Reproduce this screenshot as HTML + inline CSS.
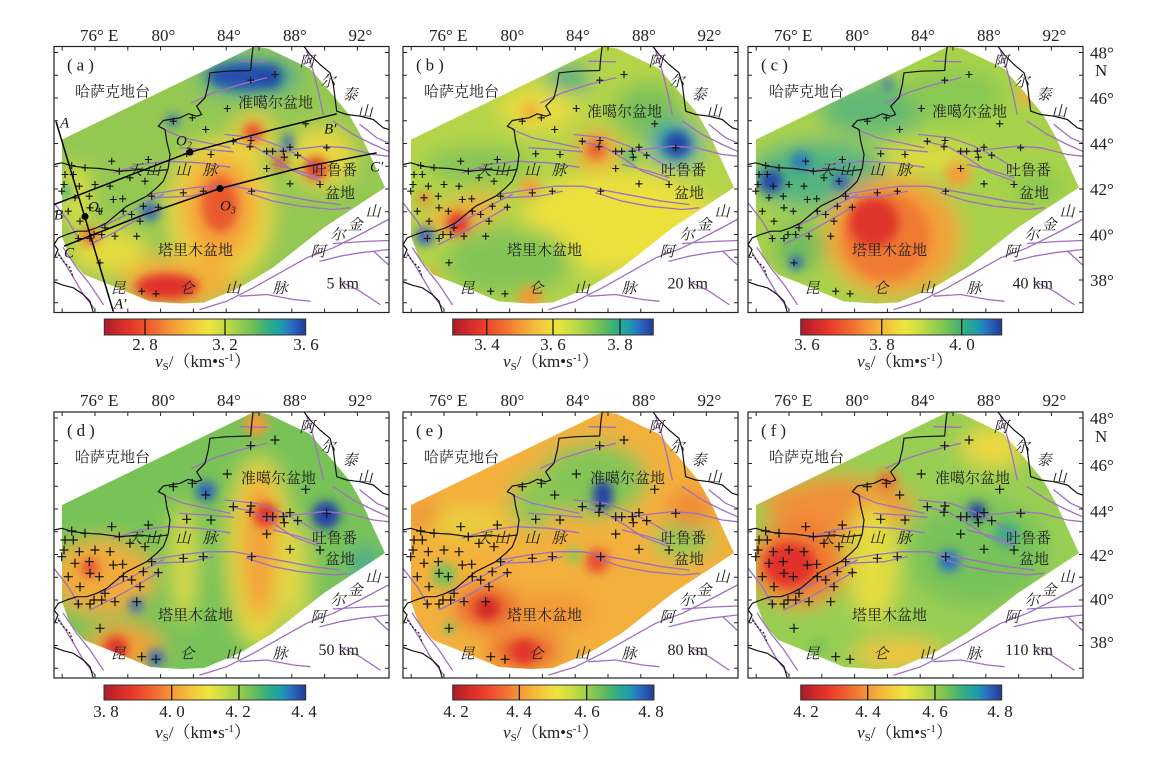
<!DOCTYPE html>
<html><head><meta charset="utf-8"><style>
html,body{margin:0;padding:0;background:#fff;}
svg{display:block;}
.cn{font-family:"Liberation Serif","Noto Serif CJK SC",serif;font-size:15px;fill:#222;}
.cnm{font-family:"Liberation Serif","Noto Serif CJK SC",serif;font-size:15px;fill:#222;text-anchor:middle;font-style:italic;}
.lab{font-family:"Liberation Serif","Noto Serif CJK SC",serif;font-size:17px;fill:#222;}
.mid{text-anchor:middle;}
.dep{font-family:"Liberation Serif",serif;font-size:16px;fill:#222;text-anchor:end;}
.it{font-family:"Liberation Serif",serif;font-size:15px;font-style:italic;fill:#111;}
</style></head><body>
<svg width="1158" height="758" viewBox="0 0 1158 758" xmlns="http://www.w3.org/2000/svg">
<defs>
<clipPath id="dc"><polygon points="8,93 200,0 214,2 256,22 280,50 295,68 308,91 331,141 270,181 219,221 186,241 150,256 128,257 96,255 60,240 30,228 16,212 8,190"/></clipPath>
<clipPath id="fc"><rect x="0" y="0" width="335" height="266"/></clipPath>
<filter id="b10" filterUnits="userSpaceOnUse" x="-80" y="-80" width="500" height="430"><feGaussianBlur stdDeviation="10"/></filter>
<filter id="b5" filterUnits="userSpaceOnUse" x="-80" y="-80" width="500" height="430"><feGaussianBlur stdDeviation="5"/></filter>
<linearGradient id="cmap" x1="0" y1="0" x2="1" y2="0">
<stop offset="0" stop-color="#a81c2c"/><stop offset="0.08" stop-color="#d42a2a"/><stop offset="0.15" stop-color="#ea3c2a"/><stop offset="0.25" stop-color="#f06a30"/><stop offset="0.35" stop-color="#f5a038"/><stop offset="0.45" stop-color="#f2cc3c"/><stop offset="0.52" stop-color="#ece43e"/><stop offset="0.60" stop-color="#c4dc44"/><stop offset="0.68" stop-color="#92cc4e"/><stop offset="0.75" stop-color="#62bc5a"/><stop offset="0.82" stop-color="#2eac88"/><stop offset="0.88" stop-color="#1e9cb0"/><stop offset="0.93" stop-color="#2a6cc4"/><stop offset="1" stop-color="#233a92"/>
</linearGradient>
<g id="lines">
<g fill="none" stroke="#a070c0" stroke-width="1.3" stroke-linejoin="round" stroke-linecap="round">
<polyline points="186,14.7 212.7,15.3"/>
<polyline points="137.7,56.3 159.3,46.3 186,38 212.7,31.3"/>
<polyline points="252.7,4.7 259.3,24.7 264.3,44.7 269.3,68"/>
<polyline points="279.3,74.7 299.3,88 319.3,98 334.3,104.7"/>
<polyline points="306,78 322.7,91.3 334.3,96.3"/>
<polyline points="109.3,83 129.3,91.3 152.7,96.3 176,101.3"/>
<polyline points="126,101.3 152.7,103 179.3,105.3"/>
<polyline points="171,88 202.7,91.3 226,99.7 249.3,111.3 269.3,123"/>
<polyline points="176,94.7 199.3,99.7 219.3,111.3 239.3,124.7 266,134.7"/>
<polyline points="212.7,106.3 239.3,103 269.3,99.7 292.7,101.3 319.3,108 334.3,109.7"/>
<polyline points="219.3,118 246,124.7 266,131.3"/>
<polyline points="59.3,126.3 86,118 112.7,114.7 146,116.3 176,120.7"/>
<polyline points="96,148 126,143 152.7,139.7 179.3,139.7 206,144.7 232.7,149.7 259.3,154.7 286,158"/>
<polyline points="192.7,146.3 219.3,154.7 246,159.7 279.3,163 296,161.3"/>
<polyline points="99.3,151.3 136,149.7 159.3,144.7"/>
<polyline points="36,198 62.7,184.7 86,171.3 106,159.7"/>
<polyline points="46,181.3 72.7,168 92.7,156.3 109.3,148"/>
<polyline points="9.3,201.3 22.7,221.3 36,238 49.3,258"/>
<polyline points="0,156.3 14.3,174.7 26,194.7"/>
<polyline points="4.3,206.3 17.7,228 29.3,248 41,263"/>
<polyline points="146,263 172.7,254.7 199.3,241.3 226,226.3 252.7,211.3 279.3,201.3 306,188 334.3,173"/>
<polyline points="186,249.7 212.7,248 239.3,253 256,254.7"/>
<polyline points="266,214.7 286,209.7 306,206.3 334.3,203"/>
<polyline points="279.3,197 310,195 334.3,194"/>
<polyline points="286,234.7 306,244.7 326,258"/>
<polyline points="320,205 334,218"/>
</g>
<g fill="none" stroke="#111" stroke-width="1.2" stroke-linejoin="round">
<polyline points="199.3,-1 197.7,11.3 196.7,24 172.7,24.7 156,26.3 154.3,38 151,51.3 142.7,59.7 147.7,68 142.7,69.7 134.3,67.3 126,71.3 109.3,74 104.3,79.7 111,83 112.7,94.7 116,108 114.3,121.3 112,128 109.3,134.7 102.7,141.3 92.7,149.7 82.7,154.7 72.7,159.7 62.7,168 52.7,176.3 42.7,181.3 32.7,184.7 22.7,184.7 12.7,188 4.3,191.3 0,198"/>
<polyline points="114.3,123 99.3,124.7 86,123 66,124.7 46,122 32.7,121.3 19.3,119.7 7.7,116.3 0,118"/>
<polyline points="249.3,-1 256,8 266,18 276,26.3 279.3,38 281,51.3 282.7,64.7 292.7,68 306,69.7 319.3,73 329.3,81.3 335,83"/>
<polyline points="0,235.3 9.3,238.7 19.3,241.3 29.3,248 36,254.7 39.3,266"/>
<polyline points="0,198 4,203 1,210"/>
<polyline points="4.3,208 9.3,214.7 16,221.3 19.3,231.3" stroke-dasharray="2,2"/>
</g>
</g>
<g id="frame">
<rect x="0" y="0" width="335" height="266" fill="none" stroke="#222" stroke-width="1.2"/>
<path fill="none" stroke="#222" stroke-width="1" d="M8.2,0v4M41,0v4M73.8,0v4M106.6,0v4M139.4,0v4M172.2,0v4M205,0v4M237.8,0v4M270.6,0v4M303.4,0v4M8.2,266v-4M41,266v-4M73.8,266v-4M106.6,266v-4M139.4,266v-4M172.2,266v-4M205,266v-4M237.8,266v-4M270.6,266v-4M303.4,266v-4M0,6h4M0,28.75h4M0,51.5h4M0,74.25h4M0,97h4M0,119.75h4M0,142.5h4M0,165.25h4M0,188h4M0,210.75h4M0,233.5h4M0,256.25h4M335,6h-4M335,28.75h-4M335,51.5h-4M335,74.25h-4M335,97h-4M335,119.75h-4M335,142.5h-4M335,165.25h-4M335,188h-4M335,210.75h-4M335,233.5h-4M335,256.25h-4"/>
</g>
<g id="geo">
<g clip-path="url(#fc)">
<use href="#lines"/>
<path fill="none" stroke="#111" stroke-width="1.1" d="M217.5,28h7m-3.5-3.5v7M193.2,33.7h7m-3.5-3.5v7M169.8,62h7m-3.5-3.5v7M115.8,74.7h7m-3.5-3.5v7M134.8,71.3h7m-3.5-3.5v7M148.2,83h7m-3.5-3.5v7M175.8,94.7h7m-3.5-3.5v7M193.5,94h7m-3.5-3.5v7M192.5,100.3h7m-3.5-3.5v7M209.2,104.7h7m-3.5-3.5v7M215.2,104.7h7m-3.5-3.5v7M225.8,104.7h7m-3.5-3.5v7M226.8,110.7h7m-3.5-3.5v7M240.2,108.7h7m-3.5-3.5v7M232.5,100.7h7m-3.5-3.5v7M248.2,77.3h7m-3.5-3.5v7M269.2,101.3h7m-3.5-3.5v7M209.2,122h7m-3.5-3.5v7M262.5,138h7m-3.5-3.5v7M232.5,137.3h7m-3.5-3.5v7M194.2,144.7h7m-3.5-3.5v7M145.8,144.7h7m-3.5-3.5v7M125.8,146.3h7m-3.5-3.5v7M153.5,108h7m-3.5-3.5v7M129.2,107.3h7m-3.5-3.5v7M90.8,113h7m-3.5-3.5v7M54.2,114.7h7m-3.5-3.5v7M72.5,131.3h7m-3.5-3.5v7M87.5,134.7h7m-3.5-3.5v7M61.8,124.7h7m-3.5-3.5v7M52.5,139.7h7m-3.5-3.5v7M37.5,138h7m-3.5-3.5v7M27.5,121.3h7m-3.5-3.5v7M14.2,119h7m-3.5-3.5v7M7.5,128h7m-3.5-3.5v7M15.8,128h7m-3.5-3.5v7M21.8,139.7h7m-3.5-3.5v7M6.5,138h7m-3.5-3.5v7M4.2,144.7h7m-3.5-3.5v7M17.5,151.3h7m-3.5-3.5v7M31.8,149.7h7m-3.5-3.5v7M55.8,153h7m-3.5-3.5v7M65.2,152.3h7m-3.5-3.5v7M41.8,164.7h7m-3.5-3.5v7M32.5,161.3h7m-3.5-3.5v7M22.5,174.7h7m-3.5-3.5v7M10.8,164.7h7m-3.5-3.5v7M47.5,181.3h7m-3.5-3.5v7M44.2,188h7m-3.5-3.5v7M36.5,188h7m-3.5-3.5v7M57.5,189.7h7m-3.5-3.5v7M32.5,192h7m-3.5-3.5v7M20.8,192h7m-3.5-3.5v7M79.2,189.7h7m-3.5-3.5v7M65.8,164.7h7m-3.5-3.5v7M74.2,168h7m-3.5-3.5v7M82.5,174.7h7m-3.5-3.5v7M94.2,149.7h7m-3.5-3.5v7M85.8,159.7h7m-3.5-3.5v7M100.8,160.7h7m-3.5-3.5v7M42.5,216.3h7m-3.5-3.5v7M84.2,244.7h7m-3.5-3.5v7M98.5,247.3h7m-3.5-3.5v7"/>
</g>
<use href="#frame"/>
</g>
<g id="geo2">
<g clip-path="url(#fc)">
<use href="#lines"/>
<path fill="none" stroke="#111" stroke-width="1.2" d="M216.5,28h9m-4.5-4.5v9M192.2,33.7h9m-4.5-4.5v9M168.8,62h9m-4.5-4.5v9M114.8,74.7h9m-4.5-4.5v9M133.8,71.3h9m-4.5-4.5v9M147.2,83h9m-4.5-4.5v9M174.8,94.7h9m-4.5-4.5v9M192.5,94h9m-4.5-4.5v9M191.5,100.3h9m-4.5-4.5v9M208.2,104.7h9m-4.5-4.5v9M214.2,104.7h9m-4.5-4.5v9M224.8,104.7h9m-4.5-4.5v9M225.8,110.7h9m-4.5-4.5v9M239.2,108.7h9m-4.5-4.5v9M231.5,100.7h9m-4.5-4.5v9M247.2,77.3h9m-4.5-4.5v9M268.2,101.3h9m-4.5-4.5v9M208.2,122h9m-4.5-4.5v9M261.5,138h9m-4.5-4.5v9M231.5,137.3h9m-4.5-4.5v9M193.2,144.7h9m-4.5-4.5v9M144.8,144.7h9m-4.5-4.5v9M124.8,146.3h9m-4.5-4.5v9M152.5,108h9m-4.5-4.5v9M128.2,107.3h9m-4.5-4.5v9M89.8,113h9m-4.5-4.5v9M53.2,114.7h9m-4.5-4.5v9M71.5,131.3h9m-4.5-4.5v9M86.5,134.7h9m-4.5-4.5v9M60.8,124.7h9m-4.5-4.5v9M51.5,139.7h9m-4.5-4.5v9M36.5,138h9m-4.5-4.5v9M26.5,121.3h9m-4.5-4.5v9M13.2,119h9m-4.5-4.5v9M6.5,128h9m-4.5-4.5v9M14.8,128h9m-4.5-4.5v9M20.8,139.7h9m-4.5-4.5v9M5.5,138h9m-4.5-4.5v9M3.2,144.7h9m-4.5-4.5v9M16.5,151.3h9m-4.5-4.5v9M30.8,149.7h9m-4.5-4.5v9M54.8,153h9m-4.5-4.5v9M64.2,152.3h9m-4.5-4.5v9M40.8,164.7h9m-4.5-4.5v9M31.5,161.3h9m-4.5-4.5v9M21.5,174.7h9m-4.5-4.5v9M9.8,164.7h9m-4.5-4.5v9M46.5,181.3h9m-4.5-4.5v9M43.2,188h9m-4.5-4.5v9M35.5,188h9m-4.5-4.5v9M56.5,189.7h9m-4.5-4.5v9M31.5,192h9m-4.5-4.5v9M19.8,192h9m-4.5-4.5v9M78.2,189.7h9m-4.5-4.5v9M64.8,164.7h9m-4.5-4.5v9M73.2,168h9m-4.5-4.5v9M81.5,174.7h9m-4.5-4.5v9M93.2,149.7h9m-4.5-4.5v9M84.8,159.7h9m-4.5-4.5v9M99.8,160.7h9m-4.5-4.5v9M41.5,216.3h9m-4.5-4.5v9M83.2,244.7h9m-4.5-4.5v9M97.5,247.3h9m-4.5-4.5v9"/>
</g>
<use href="#frame"/>
</g>
</defs>
<rect width="1158" height="758" fill="#fff"/>

<!-- ===== Panel a ===== -->
<g transform="translate(54,46.5)">
<g clip-path="url(#dc)">
<g filter="url(#b10)">
<rect x="-30" y="-30" width="400" height="330" fill="#94c852"/>
<ellipse cx="22" cy="150" rx="14" ry="32" fill="#dce040"/>
<ellipse cx="55" cy="205" rx="38" ry="22" fill="#e4dc40"/>
<ellipse cx="166" cy="165" rx="52" ry="72" fill="#ecd840"/>
<ellipse cx="166" cy="162" rx="36" ry="52" fill="#f5a03a"/>
<ellipse cx="125" cy="235" rx="58" ry="26" fill="#f0b03a"/>
<ellipse cx="268" cy="110" rx="32" ry="30" fill="#e8d840"/>
<ellipse cx="200" cy="88" rx="20" ry="22" fill="#ecd040"/>
<ellipse cx="195" cy="30" rx="50" ry="20" fill="#30a090"/>
</g>
<g filter="url(#b5)">
<ellipse cx="166" cy="158" rx="18" ry="28" fill="#e85a2e"/>
<ellipse cx="113" cy="240" rx="32" ry="13" fill="#e0302a"/>
<ellipse cx="190" cy="30" rx="36" ry="13" fill="#2850b0"/>
<circle cx="216" cy="30" r="12" fill="#2248a8"/>
<circle cx="119" cy="74" r="6" fill="#2a60c0"/>
<circle cx="199" cy="86" r="10" fill="#e85030"/>
<ellipse cx="234" cy="96" rx="5" ry="9" fill="#2a60c0"/>
<circle cx="226" cy="116" r="7" fill="#e84a2c"/>
<circle cx="262" cy="122" r="12" fill="#e0402a"/>
<circle cx="96" cy="165" r="9" fill="#2a60c0"/>
<circle cx="12" cy="145" r="6" fill="#30a890"/>
<circle cx="36" cy="190" r="9" fill="#f07030"/>
</g>
</g>
<use href="#geo"/>
<g clip-path="url(#fc)" fill="none" stroke="#000" stroke-width="1.5">
<line x1="2" y1="75" x2="59.3" y2="265"/>
<polyline points="0,158 69.3,131.3 136,105.7 219.3,83 282.7,67.3"/>
<polyline points="10,199.7 86,169.7 166,142 246,121.3 322.7,106.3"/>
</g>
<circle cx="31" cy="170" r="3.5" fill="#000"/>
<circle cx="136" cy="105.7" r="3.5" fill="#000"/>
<circle cx="166" cy="142" r="3.5" fill="#000"/>
<text x="6" y="81" class="it">A</text>
<text x="0" y="173" class="it">B</text>
<text x="10" y="211" class="it">C</text>
<text x="60" y="262" class="it">A′</text>
<text x="270" y="87" class="it">B′</text>
<text x="316" y="125" class="it">C′</text>
<text x="122" y="99" class="it">O<tspan font-size="10" dy="3">2</tspan></text>
<text x="34" y="165" class="it">O<tspan font-size="10" dy="3">1</tspan></text>
<text x="166" y="164" class="it">O<tspan font-size="10" dy="3">3</tspan></text>
<text x="13" y="24" class="lab" letter-spacing="4">(a)</text>
<text x="21" y="50" class="cn">哈萨克地台</text>
<text x="184" y="61" class="cn">准噶尔盆地</text>
<text x="81" y="128.5" class="cnm">天</text><text x="99" y="128.5" class="cnm">山</text><text x="129" y="128.5" class="cnm">山</text><text x="156" y="128.5" class="cnm">脉</text>
<text x="258" y="128.5" class="cn">吐鲁番</text>
<text x="271" y="151.5" class="cn">盆地</text>
<text x="104" y="208.5" class="cn">塔里木盆地</text>
<text x="64" y="246.5" class="cnm">昆</text><text x="133" y="246.5" class="cnm">仑</text><text x="179" y="246.5" class="cnm">山</text><text x="226" y="246.5" class="cnm">脉</text>
<text x="253" y="20" class="cnm">阿</text><text x="274" y="40" class="cnm">尔</text><text x="296" y="53" class="cnm">泰</text><text x="311" y="70" class="cnm">山</text>
<text x="319" y="170" class="cnm">山</text><text x="301" y="183" class="cnm">金</text><text x="284" y="193" class="cnm">尔</text><text x="264" y="210" class="cnm">阿</text>
<text x="305" y="242" class="dep">5 km</text>
</g>

<!-- ===== Panel b ===== -->
<g transform="translate(403,46.5)">
<g clip-path="url(#dc)">
<g filter="url(#b10)">
<rect x="-30" y="-30" width="400" height="330" fill="#b4d44a"/>
<ellipse cx="215" cy="175" rx="95" ry="50" fill="#ece03e"/>
<ellipse cx="135" cy="62" rx="40" ry="22" fill="#e6dc40"/>
<ellipse cx="75" cy="118" rx="55" ry="18" fill="#84c456"/>
<ellipse cx="105" cy="215" rx="65" ry="35" fill="#84c456"/>
<ellipse cx="245" cy="65" rx="35" ry="28" fill="#78c05a"/>
<ellipse cx="272" cy="98" rx="26" ry="22" fill="#2c9cae"/>
<ellipse cx="165" cy="32" rx="22" ry="13" fill="#3aa888"/>
<ellipse cx="60" cy="168" rx="42" ry="14" fill="#f3a83a" transform="rotate(-20 60 168)"/>
<ellipse cx="194" cy="104" rx="20" ry="20" fill="#f3a03a"/>
</g>
<g filter="url(#b5)">
<circle cx="274" cy="98" r="13" fill="#2048a8"/>
<circle cx="193" cy="103" r="9" fill="#e85a2e"/>
<circle cx="227" cy="111" r="6" fill="#30a890"/>
<circle cx="55" cy="177" r="11" fill="#e0302a"/>
<circle cx="21" cy="152" r="7" fill="#f08a34"/>
<circle cx="22" cy="190" r="9" fill="#2a60c0"/>
<circle cx="127" cy="141" r="10" fill="#f3a03a"/>
<circle cx="127" cy="251" r="12" fill="#f09a36"/>
<circle cx="28" cy="228" r="6" fill="#f0a038"/>
<circle cx="127" cy="65" r="9" fill="#f3b03a"/>
</g>
</g>
<use href="#geo"/>
<text x="13" y="24" class="lab" letter-spacing="4">(b)</text>
<text x="21" y="50" class="cn">哈萨克地台</text>
<text x="184" y="70" class="cn">准噶尔盆地</text>
<text x="81" y="128.5" class="cnm">天</text><text x="99" y="128.5" class="cnm">山</text><text x="129" y="128.5" class="cnm">山</text><text x="156" y="128.5" class="cnm">脉</text>
<text x="258" y="128.5" class="cn">吐鲁番</text>
<text x="271" y="151.5" class="cn">盆地</text>
<text x="104" y="208.5" class="cn">塔里木盆地</text>
<text x="64" y="246.5" class="cnm">昆</text><text x="133" y="246.5" class="cnm">仑</text><text x="179" y="246.5" class="cnm">山</text><text x="226" y="246.5" class="cnm">脉</text>
<text x="253" y="20" class="cnm">阿</text><text x="274" y="40" class="cnm">尔</text><text x="296" y="53" class="cnm">泰</text><text x="311" y="70" class="cnm">山</text>
<text x="319" y="170" class="cnm">山</text><text x="301" y="183" class="cnm">金</text><text x="284" y="193" class="cnm">尔</text><text x="264" y="210" class="cnm">阿</text>
<text x="305" y="242" class="dep">20 km</text>
</g>

<!-- ===== Panel c ===== -->
<g transform="translate(748,46.5)">
<g clip-path="url(#dc)">
<g filter="url(#b10)">
<rect x="-30" y="-30" width="400" height="330" fill="#a8d24c"/>
<ellipse cx="70" cy="128" rx="68" ry="34" fill="#52b480"/>
<ellipse cx="125" cy="62" rx="55" ry="28" fill="#62b874"/>
<ellipse cx="145" cy="190" rx="68" ry="60" fill="#f2a03a"/>
<ellipse cx="205" cy="48" rx="50" ry="25" fill="#88c852"/>
<ellipse cx="180" cy="112" rx="45" ry="12" fill="#e6dc40"/>
<ellipse cx="290" cy="140" rx="25" ry="15" fill="#88c852"/>
<ellipse cx="50" cy="200" rx="25" ry="25" fill="#70bc5c"/>
</g>
<g filter="url(#b5)">
<ellipse cx="138" cy="190" rx="44" ry="44" fill="#f07a32"/>
<ellipse cx="126" cy="176" rx="26" ry="26" fill="#e0342a"/>
<circle cx="23" cy="135" r="12" fill="#2448a8"/>
<circle cx="53" cy="115" r="10" fill="#2c7cb8"/>
<circle cx="93" cy="135" r="8" fill="#2a60c0"/>
<circle cx="140" cy="38" r="5" fill="#2a60c0"/>
<circle cx="48" cy="216" r="7" fill="#2a60c0"/>
<circle cx="210" cy="128" r="13" fill="#f3a03a"/>
<circle cx="280" cy="48" r="10" fill="#f0b03a"/>
</g>
</g>
<use href="#geo"/>
<text x="13" y="24" class="lab" letter-spacing="4">(c)</text>
<text x="21" y="50" class="cn">哈萨克地台</text>
<text x="184" y="70" class="cn">准噶尔盆地</text>
<text x="79" y="128.5" class="cnm">天</text><text x="99" y="128.5" class="cnm">山</text><text x="129" y="128.5" class="cnm">山</text><text x="156" y="128.5" class="cnm">脉</text>
<text x="258" y="128.5" class="cn">吐鲁番</text>
<text x="271" y="151.5" class="cn">盆地</text>
<text x="104" y="208.5" class="cn">塔里木盆地</text>
<text x="64" y="246.5" class="cnm">昆</text><text x="133" y="246.5" class="cnm">仑</text><text x="179" y="246.5" class="cnm">山</text><text x="226" y="246.5" class="cnm">脉</text>
<text x="253" y="20" class="cnm">阿</text><text x="274" y="40" class="cnm">尔</text><text x="296" y="53" class="cnm">泰</text><text x="311" y="70" class="cnm">山</text>
<text x="319" y="170" class="cnm">山</text><text x="301" y="183" class="cnm">金</text><text x="284" y="193" class="cnm">尔</text><text x="264" y="210" class="cnm">阿</text>
<text x="305" y="242" class="dep">40 km</text>
</g>

<!-- ===== Panel d ===== -->
<g transform="translate(54,412)">
<g clip-path="url(#dc)">
<g filter="url(#b10)">
<rect x="-30" y="-30" width="400" height="330" fill="#78c258"/>
<ellipse cx="205" cy="140" rx="32" ry="95" fill="#e4dc40"/>
<ellipse cx="130" cy="150" rx="12" ry="60" fill="#dcdc44"/>
<ellipse cx="245" cy="170" rx="10" ry="60" fill="#d8d848"/>
<ellipse cx="205" cy="135" rx="18" ry="75" fill="#f3a03a"/>
<ellipse cx="48" cy="165" rx="52" ry="38" fill="#f0ac3a"/>
<ellipse cx="70" cy="235" rx="38" ry="22" fill="#f0a038"/>
<ellipse cx="310" cy="150" rx="16" ry="14" fill="#3aa890"/>
</g>
<g filter="url(#b5)">
<circle cx="212" cy="103" r="12" fill="#e0302a"/>
<circle cx="202" cy="12" r="12" fill="#f09a38"/>
<circle cx="152" cy="79" r="10" fill="#2a60c0"/>
<circle cx="272" cy="103" r="14" fill="#2042a8"/>
<circle cx="36" cy="156" r="9" fill="#e85030"/>
<circle cx="82" cy="193" r="7" fill="#2a60c0"/>
<circle cx="102" cy="246" r="8" fill="#2a60c0"/>
<circle cx="62" cy="236" r="12" fill="#e0342a"/>
</g>
</g>
<use href="#geo2"/>
<text x="13" y="24" class="lab" letter-spacing="4">(d)</text>
<text x="21" y="50" class="cn">哈萨克地台</text>
<text x="187" y="71" class="cn">准噶尔盆地</text>
<text x="81" y="131" class="cnm">天</text><text x="99" y="131" class="cnm">山</text><text x="129" y="131" class="cnm">山</text><text x="156" y="131" class="cnm">脉</text>
<text x="258" y="131" class="cn">吐鲁番</text>
<text x="271" y="152" class="cn">盆地</text>
<text x="104" y="208" class="cn">塔里木盆地</text>
<text x="64" y="246.5" class="cnm">昆</text><text x="133" y="246.5" class="cnm">仑</text><text x="179" y="246.5" class="cnm">山</text><text x="226" y="246.5" class="cnm">脉</text>
<text x="253" y="20" class="cnm">阿</text><text x="274" y="40" class="cnm">尔</text><text x="296" y="53" class="cnm">泰</text><text x="311" y="70" class="cnm">山</text>
<text x="319" y="170" class="cnm">山</text><text x="301" y="183" class="cnm">金</text><text x="284" y="193" class="cnm">尔</text><text x="264" y="210" class="cnm">阿</text>
<text x="305" y="243" class="dep">50 km</text>
</g>

<!-- ===== Panel e ===== -->
<g transform="translate(403,412)">
<g clip-path="url(#dc)">
<g filter="url(#b10)">
<rect x="-30" y="-30" width="400" height="330" fill="#f3b03c"/>
<ellipse cx="190" cy="68" rx="55" ry="38" fill="#84c456"/>
<ellipse cx="130" cy="90" rx="22" ry="28" fill="#88c854"/>
<ellipse cx="60" cy="110" rx="45" ry="15" fill="#e8d040"/>
<ellipse cx="280" cy="128" rx="30" ry="20" fill="#90c854"/>
<ellipse cx="84" cy="196" rx="32" ry="22" fill="#ea5a2e"/>
<ellipse cx="121" cy="239" rx="35" ry="16" fill="#e84a2c"/>
<ellipse cx="287" cy="96" rx="22" ry="20" fill="#f08838"/>
<ellipse cx="21" cy="103" rx="15" ry="12" fill="#f08838"/>
<ellipse cx="150" cy="200" rx="40" ry="20" fill="#f29838"/>
</g>
<g filter="url(#b5)">
<ellipse cx="200" cy="83" rx="10" ry="15" fill="#2040a8"/>
<circle cx="41" cy="163" r="12" fill="#78c05a"/>
<circle cx="46" cy="216" r="6" fill="#78c05a"/>
<circle cx="171" cy="143" r="8" fill="#8cc850"/>
<circle cx="84" cy="196" r="11" fill="#d02828"/>
<circle cx="194" cy="149" r="12" fill="#e85030"/>
<circle cx="121" cy="240" r="12" fill="#e0302a"/>
</g>
</g>
<use href="#geo2"/>
<text x="13" y="24" class="lab" letter-spacing="4">(e)</text>
<text x="21" y="50" class="cn">哈萨克地台</text>
<text x="187" y="71" class="cn">准噶尔盆地</text>
<text x="81" y="131" class="cnm">天</text><text x="99" y="131" class="cnm">山</text><text x="129" y="131" class="cnm">山</text><text x="156" y="131" class="cnm">脉</text>
<text x="258" y="131" class="cn">吐鲁番</text>
<text x="271" y="152" class="cn">盆地</text>
<text x="104" y="208" class="cn">塔里木盆地</text>
<text x="64" y="246.5" class="cnm">昆</text><text x="133" y="246.5" class="cnm">仑</text><text x="179" y="246.5" class="cnm">山</text><text x="226" y="246.5" class="cnm">脉</text>
<text x="253" y="20" class="cnm">阿</text><text x="274" y="40" class="cnm">尔</text><text x="296" y="53" class="cnm">泰</text><text x="311" y="70" class="cnm">山</text>
<text x="319" y="170" class="cnm">山</text><text x="301" y="183" class="cnm">金</text><text x="284" y="193" class="cnm">尔</text><text x="264" y="210" class="cnm">阿</text>
<text x="305" y="243" class="dep">80 km</text>
</g>

<!-- ===== Panel f ===== -->
<g transform="translate(748,412)">
<g clip-path="url(#dc)">
<g filter="url(#b10)">
<rect x="-30" y="-30" width="400" height="330" fill="#98ce52"/>
<ellipse cx="90" cy="95" rx="75" ry="30" fill="#f09038"/>
<ellipse cx="50" cy="152" rx="48" ry="42" fill="#f07a32"/>
<ellipse cx="125" cy="150" rx="25" ry="60" fill="#e4dc40"/>
<ellipse cx="245" cy="35" rx="32" ry="20" fill="#ecd840"/>
<ellipse cx="150" cy="242" rx="45" ry="15" fill="#f0c43c"/>
<ellipse cx="230" cy="140" rx="70" ry="55" fill="#78c25a"/>
</g>
<g filter="url(#b5)">
<ellipse cx="42" cy="153" rx="26" ry="22" fill="#e0302a"/>
<circle cx="139" cy="69" r="10" fill="#f07030"/>
<circle cx="229" cy="99" r="9" fill="#2040a8"/>
<circle cx="201" cy="149" r="11" fill="#2a70c4"/>
<circle cx="259" cy="123" r="12" fill="#3aa890"/>
<circle cx="70" cy="235" r="10" fill="#80c456"/>
</g>
</g>
<use href="#geo2"/>
<text x="13" y="24" class="lab" letter-spacing="4">(f)</text>
<text x="21" y="50" class="cn">哈萨克地台</text>
<text x="187" y="71" class="cn">准噶尔盆地</text>
<text x="79" y="131" class="cnm">天</text><text x="99" y="131" class="cnm">山</text><text x="129" y="131" class="cnm">山</text><text x="156" y="131" class="cnm">脉</text>
<text x="258" y="131" class="cn">吐鲁番</text>
<text x="271" y="152" class="cn">盆地</text>
<text x="104" y="208" class="cn">塔里木盆地</text>
<text x="64" y="246.5" class="cnm">昆</text><text x="133" y="246.5" class="cnm">仑</text><text x="179" y="246.5" class="cnm">山</text><text x="226" y="246.5" class="cnm">脉</text>
<text x="253" y="20" class="cnm">阿</text><text x="274" y="40" class="cnm">尔</text><text x="296" y="53" class="cnm">泰</text><text x="311" y="70" class="cnm">山</text>
<text x="319" y="170" class="cnm">山</text><text x="301" y="183" class="cnm">金</text><text x="284" y="193" class="cnm">尔</text><text x="264" y="210" class="cnm">阿</text>
<text x="305" y="243" class="dep">110 km</text>
</g>

<!-- ===== top longitude labels ===== -->
<g class="lab">
<text x="80" y="41">76° E</text><text x="151.5" y="41">80°</text><text x="217" y="41">84°</text><text x="283" y="41">88°</text><text x="348.5" y="41">92°</text>
<text x="429" y="41">76° E</text><text x="500.5" y="41">80°</text><text x="566" y="41">84°</text><text x="632" y="41">88°</text><text x="697.5" y="41">92°</text>
<text x="774" y="41">76° E</text><text x="845.5" y="41">80°</text><text x="911" y="41">84°</text><text x="977" y="41">88°</text><text x="1042.5" y="41">92°</text>
<text x="80" y="406">76° E</text><text x="151.5" y="406">80°</text><text x="217" y="406">84°</text><text x="283" y="406">88°</text><text x="348.5" y="406">92°</text>
<text x="429" y="406">76° E</text><text x="500.5" y="406">80°</text><text x="566" y="406">84°</text><text x="632" y="406">88°</text><text x="697.5" y="406">92°</text>
<text x="774" y="406">76° E</text><text x="845.5" y="406">80°</text><text x="911" y="406">84°</text><text x="977" y="406">88°</text><text x="1042.5" y="406">92°</text>
</g>
<!-- ===== right latitude labels ===== -->
<g class="lab">
<text x="1090" y="58.5">48°</text><text x="1095" y="76">N</text><text x="1090" y="104">46°</text><text x="1090" y="149.5">44°</text><text x="1090" y="195">42°</text><text x="1090" y="240.5">40°</text><text x="1090" y="286">38°</text>
<text x="1090" y="424">48°</text><text x="1095" y="442">N</text><text x="1090" y="471">46°</text><text x="1090" y="517">44°</text><text x="1090" y="561">42°</text><text x="1090" y="605">40°</text><text x="1090" y="648">38°</text>
</g>

<!-- ===== colorbars ===== -->
<g stroke="#333" stroke-width="1">
<rect x="104.3" y="319" width="201.4" height="16" fill="url(#cmap)"/>
<rect x="452.7" y="319" width="200.6" height="16" fill="url(#cmap)"/>
<rect x="800.7" y="319" width="201" height="16" fill="url(#cmap)"/>
<rect x="104" y="685" width="201.7" height="15" fill="url(#cmap)"/>
<rect x="452.7" y="685" width="201.3" height="15" fill="url(#cmap)"/>
<rect x="800.7" y="685" width="201" height="15" fill="url(#cmap)"/>
</g>
<path stroke="#111" stroke-width="1.2" d="M145,319v16M225,319v16M486.7,319v16M553,319v16M620,319v16M881.7,319v16M961.7,319v16M171.7,685v15M239,685v15M519.3,685v15M586.7,685v15M867.7,685v15M935,685v15"/>
<g class="lab mid">
<text x="145" y="350">2. 8</text><text x="225" y="350">3. 2</text><text x="306" y="350">3. 6</text>
<text x="487" y="350">3. 4</text><text x="553" y="350">3. 6</text><text x="620" y="350">3. 8</text>
<text x="807" y="350">3. 6</text><text x="882" y="350">3. 8</text><text x="962" y="350">4. 0</text>
<text x="106" y="717">3. 8</text><text x="172" y="717">4. 0</text><text x="238" y="717">4. 2</text><text x="304" y="717">4. 4</text>
<text x="456" y="717">4. 2</text><text x="519" y="717">4. 4</text><text x="587" y="717">4. 6</text><text x="651" y="717">4. 8</text>
<text x="806" y="717">4. 2</text><text x="868" y="717">4. 4</text><text x="935" y="717">4. 6</text><text x="1000" y="717">4. 8</text>
</g>
<g class="lab mid" font-size="16">
<text x="203" y="367"><tspan font-style="italic">v</tspan><tspan font-size="11" dy="3">S</tspan><tspan dy="-3">/（km•s</tspan><tspan font-size="11" dy="-6">-1</tspan><tspan dy="6">）</tspan></text>
<text x="551" y="367"><tspan font-style="italic">v</tspan><tspan font-size="11" dy="3">S</tspan><tspan dy="-3">/（km•s</tspan><tspan font-size="11" dy="-6">-1</tspan><tspan dy="6">）</tspan></text>
<text x="905" y="367"><tspan font-style="italic">v</tspan><tspan font-size="11" dy="3">S</tspan><tspan dy="-3">/（km•s</tspan><tspan font-size="11" dy="-6">-1</tspan><tspan dy="6">）</tspan></text>
<text x="203" y="738"><tspan font-style="italic">v</tspan><tspan font-size="11" dy="3">S</tspan><tspan dy="-3">/（km•s</tspan><tspan font-size="11" dy="-6">-1</tspan><tspan dy="6">）</tspan></text>
<text x="551" y="738"><tspan font-style="italic">v</tspan><tspan font-size="11" dy="3">S</tspan><tspan dy="-3">/（km•s</tspan><tspan font-size="11" dy="-6">-1</tspan><tspan dy="6">）</tspan></text>
<text x="905" y="738"><tspan font-style="italic">v</tspan><tspan font-size="11" dy="3">S</tspan><tspan dy="-3">/（km•s</tspan><tspan font-size="11" dy="-6">-1</tspan><tspan dy="6">）</tspan></text>
</g>
</svg>
</body></html>
